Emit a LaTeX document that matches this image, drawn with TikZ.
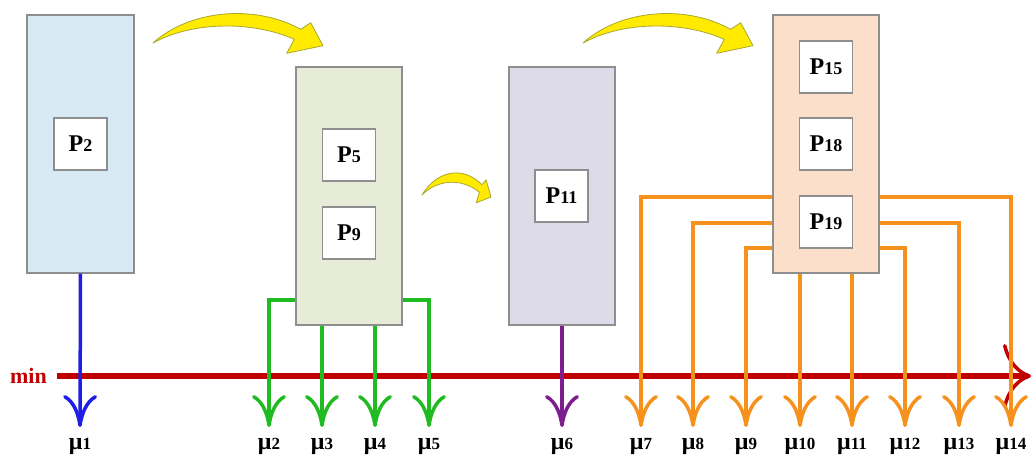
\documentclass[tikz,border=0pt]{standalone}
\usepackage{fontspec}
\setmainfont{Liberation Serif}
\usetikzlibrary{arrows.meta}
\definecolor{boxblue}{HTML}{D8EAF3}
\definecolor{boxgreen}{HTML}{E7ECD8}
\definecolor{boxpurple}{HTML}{DEDBE9}
\definecolor{boxorange}{HTML}{FBDFCA}
\definecolor{boxborder}{HTML}{8E8E8E}
\definecolor{lnblue}{HTML}{1E1EE6}
\definecolor{lngreen}{HTML}{20BB20}
\definecolor{lnpurple}{HTML}{7E1E8E}
\definecolor{lnorange}{HTML}{F7911E}
\definecolor{lnred}{HTML}{C00000}
\definecolor{arrowyellow}{HTML}{FFEA00}
\definecolor{arrowedge}{HTML}{A8A830}
\tikzset{
  bigbox/.style={draw=boxborder, line width=1.1pt, minimum width=106pt, minimum height=258pt, inner sep=0pt},
  pbox/.style={draw=boxborder, line width=1.1pt, fill=white, minimum width=53pt, minimum height=52pt, inner sep=0pt, font=\bfseries},
  mulabel/.style={font=\bfseries, inner sep=0pt, anchor=center},
  downarrow/.style={line width=3.5pt, -{Computer Modern Rightarrow[length=32pt,width=34pt,line width=3.5pt]}},
  blueline/.style={downarrow, draw=lnblue},
  greenline/.style={downarrow, draw=lngreen, line width=4pt},
  purpleline/.style={downarrow, draw=lnpurple},
  orangeline/.style={downarrow, draw=lnorange, line width=4pt},
  redline/.style={draw=lnred, line width=5.5pt, -{Computer Modern Rightarrow[length=28pt,width=64pt,line width=3.5pt]}},
  yellowarrow/.style={fill=arrowyellow, draw=arrowedge, line width=0.8pt, line join=round}
}
\newcommand{\ptext}[1]{{\fontsize{24}{26}\selectfont P}{\fontsize{18}{20}\selectfont #1}}
\newcommand{\mutext}[1]{{\fontsize{24}{26}\selectfont μ}{\fontsize{17}{19}\selectfont #1}}
\newcommand{\yellowshape}{%
  (0,0) .. controls (35,-32) and (100,-40) .. (147.7,-13.7)
  -- (157.7,-20.3) -- (170,2.7) -- (133.7,10.3) -- (141.3,-3.7)
  .. controls (100,-22) and (40,-22) .. (0,0) -- cycle}
\begin{document}
\begin{tikzpicture}[x=1pt,y=-1pt]
\useasboundingbox (0,0) rectangle (1031,457);
% boxes
\node[bigbox, fill=boxblue, minimum width=107pt] (B1) at (80.5,144) {};
\node[bigbox, fill=boxgreen] (B2) at (349,196) {};
\node[bigbox, fill=boxpurple] (B3) at (562,196) {};
\node[bigbox, fill=boxorange] (B4) at (826,144) {};
\node[pbox] (P2) at (80.5,144) {\ptext{2}};
\node[pbox] (P5) at (349,155) {\ptext{5}};
\node[pbox] (P9) at (349,233) {\ptext{9}};
\node[pbox] (P11) at (561.5,196) {\ptext{11}};
\node[pbox] (P15) at (826,67) {\ptext{15}};
\node[pbox] (P18) at (826,144) {\ptext{18}};
\node[pbox] (P19) at (826,222) {\ptext{19}};
% min axis
\node[font=\bfseries\fontsize{22}{24}\selectfont, text=lnred, inner sep=0pt] (minlbl) at (28.5,376) {min};
\coordinate (redstart) at (57,376);
\coordinate (redend) at (1031,376);
\draw[redline] (redstart) -- (redend);
% arrow ends and labels
\foreach \i/\x in {1/80,2/269,3/322,4/375,5/429,6/562,7/641,8/693,9/746,10/800,11/852,12/905,13/959,14/1011}{
  \coordinate (e\i) at (\x,427);
  \node[mulabel] (mu\i) at (\x,446) {\mutext{\i}};
}
% connectors
\draw[blueline] (B1.south) -- (e1);
\draw[greenline] ([yshift=26pt]B2.south west) -| (e2);
\draw[greenline] (e3 |- B2.south) -- (e3);
\draw[greenline] (e4 |- B2.south) -- (e4);
\draw[greenline] ([yshift=26pt]B2.south east) -| (e5);
\draw[purpleline] (B3.south) -- (e6);
\draw[orangeline] ([yshift=77pt]B4.south west) -| (e7);
\draw[orangeline] ([yshift=51pt]B4.south west) -| (e8);
\draw[orangeline] ([yshift=26pt]B4.south west) -| (e9);
\draw[orangeline] (e10 |- B4.south) -- (e10);
\draw[orangeline] (e11 |- B4.south) -- (e11);
\draw[orangeline] ([yshift=26pt]B4.south east) -| (e12);
\draw[orangeline] ([yshift=51pt]B4.south east) -| (e13);
\draw[orangeline] ([yshift=77pt]B4.south east) -| (e14);
% yellow curved arrows
\begin{scope}[shift={(153,43)}]
  \draw[yellowarrow] \yellowshape;
\end{scope}
\begin{scope}[shift={(422,195)}, xscale=0.406, yscale=0.75]
  \draw[yellowarrow] \yellowshape;
\end{scope}
\begin{scope}[shift={(583,43)}]
  \draw[yellowarrow] \yellowshape;
\end{scope}
\end{tikzpicture}
\end{document}
